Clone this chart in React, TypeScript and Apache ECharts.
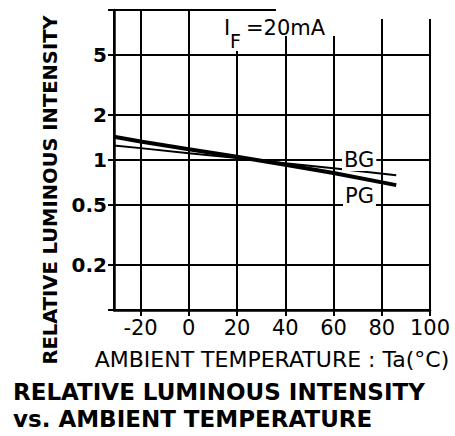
import React, { useEffect, useRef } from 'react';
import * as echarts from 'echarts';

const FONT = '"DejaVu Sans", "Liberation Sans", sans-serif';

// Data
const temps = [-31, -20, 0, 20, 40, 60, 86];
const bgValues = [1.25, 1.2, 1.11, 1.03, 0.95, 0.88, 0.79];
const pgValues = [1.43, 1.33, 1.18, 1.05, 0.93, 0.82, 0.68];
const seriesNames = ['BG', 'PG'];
const yTickValues = [0.1, 0.2, 0.5, 1, 2, 5, 10];
const yLabelValues = [0.2, 0.5, 1, 2, 5];
const xMin = -31;
const xMax = 100;
const yMin = 0.1;
const yMax = 10;
const titleText = 'RELATIVE LUMINOUS INTENSITY\nvs. AMBIENT TEMPERATURE';
const xName = 'AMBIENT TEMPERATURE : Ta(°C)';
const yName = 'RELATIVE LUMINOUS INTENSITY';
const conditionMain = 'I';
const conditionSub = 'F';
const conditionRest = '=20mA';

export default function App() {
  const ref = useRef<HTMLDivElement>(null);
  useEffect(() => {
    if (!ref.current) return;
    const chart = echarts.init(ref.current, null, { renderer: 'svg' });
    const black = '#000';
    chart.setOption({
      animation: false,
      backgroundColor: '#fff',
      title: {
        text: titleText,
        left: 13,
        top: 378,
        padding: 0,
        textStyle: { fontFamily: FONT, fontSize: 23, fontWeight: 'bold', color: black, lineHeight: 27 },
      },
      grid: { left: 114, right: 25, top: 10, bottom: 126, show: false },
      xAxis: {
        type: 'value',
        min: xMin,
        max: xMax,
        splitNumber: 7,
        minInterval: 20,
        maxInterval: 20,
        name: xName,
        nameLocation: 'middle',
        nameGap: 38,
        nameTextStyle: { fontFamily: FONT, fontSize: 22, color: black },
        axisLine: { onZero: false, lineStyle: { color: black, width: 2.5 } },
        axisTick: { show: true, length: 6, lineStyle: { color: black, width: 2 } },
        axisLabel: { showMinLabel: false, margin: 7, fontFamily: FONT, fontSize: 21, color: black },
        splitLine: { show: true, lineStyle: { color: black, width: 2 } },
      },
      yAxis: {
        type: 'log',
        logBase: 10,
        min: yMin,
        max: yMax,
        axisLine: { show: true, onZero: false, lineStyle: { color: black, width: 2.5 } },
        axisTick: { show: true, length: 6, customValues: yTickValues, lineStyle: { color: black, width: 2 } },
        axisLabel: {
          customValues: yLabelValues,
          margin: 7,
          fontFamily: FONT,
          fontSize: 20,
          fontWeight: 'bold',
          color: black,
          formatter: (v: number) => String(Number(Number(v).toPrecision(2))),
        },
        splitLine: { show: true, lineStyle: { color: black, width: 2 } },
      },
      series: [
        {
          name: seriesNames[0],
          type: 'line',
          data: temps.map((t, i) => [t, bgValues[i]]),
          symbol: 'none',
          lineStyle: { color: black, width: 2 },
          z: 5,
        },
        {
          name: seriesNames[1],
          type: 'line',
          data: temps.map((t, i) => [t, pgValues[i]]),
          symbol: 'none',
          lineStyle: { color: black, width: 4 },
          z: 5,
        },
      ],
      graphic: [
        {
          type: 'text',
          x: 50,
          y: 190,
          rotation: Math.PI / 2,
          style: { text: yName, font: `bold 19.5px ${FONT}`, fill: black, align: 'center', verticalAlign: 'middle' },
        },
        { type: 'rect', z: 100, shape: { x: 276, y: 4, width: 170, height: 15 }, style: { fill: '#fff' } },
        { type: 'rect', z: 100, shape: { x: 219, y: 11, width: 117, height: 25 }, style: { fill: '#fff' } },
        {
          type: 'text', z: 101, x: 224, y: 27.5,
          style: { text: conditionMain, font: `21px ${FONT}`, fill: black, align: 'left', verticalAlign: 'middle' },
        },
        {
          type: 'text', z: 101, x: 229, y: 40.5,
          style: { text: conditionSub, font: `19px ${FONT}`, fill: black, align: 'left', verticalAlign: 'middle', backgroundColor: '#fff', padding: [1, 1] },
        },
        {
          type: 'text', z: 101, x: 246, y: 27.5,
          style: { text: conditionRest, font: `21px ${FONT}`, fill: black, align: 'left', verticalAlign: 'middle' },
        },
        {
          type: 'text', z: 101, x: 342, y: 159.5,
          style: { text: seriesNames[0], font: `21px ${FONT}`, fill: black, align: 'left', verticalAlign: 'middle', backgroundColor: '#fff', padding: [1, 2] },
        },
        {
          type: 'text', z: 101, x: 343, y: 196,
          style: { text: seriesNames[1], font: `21px ${FONT}`, fill: black, align: 'left', verticalAlign: 'middle', backgroundColor: '#fff', padding: [1, 2] },
        },
      ],
    });
    return () => chart.dispose();
  }, []);
  return (
    <div
      ref={ref}
      style={{ position: 'fixed', left: 0, top: 0, width: 455, height: 436, background: '#fff' }}
    />
  );
}
